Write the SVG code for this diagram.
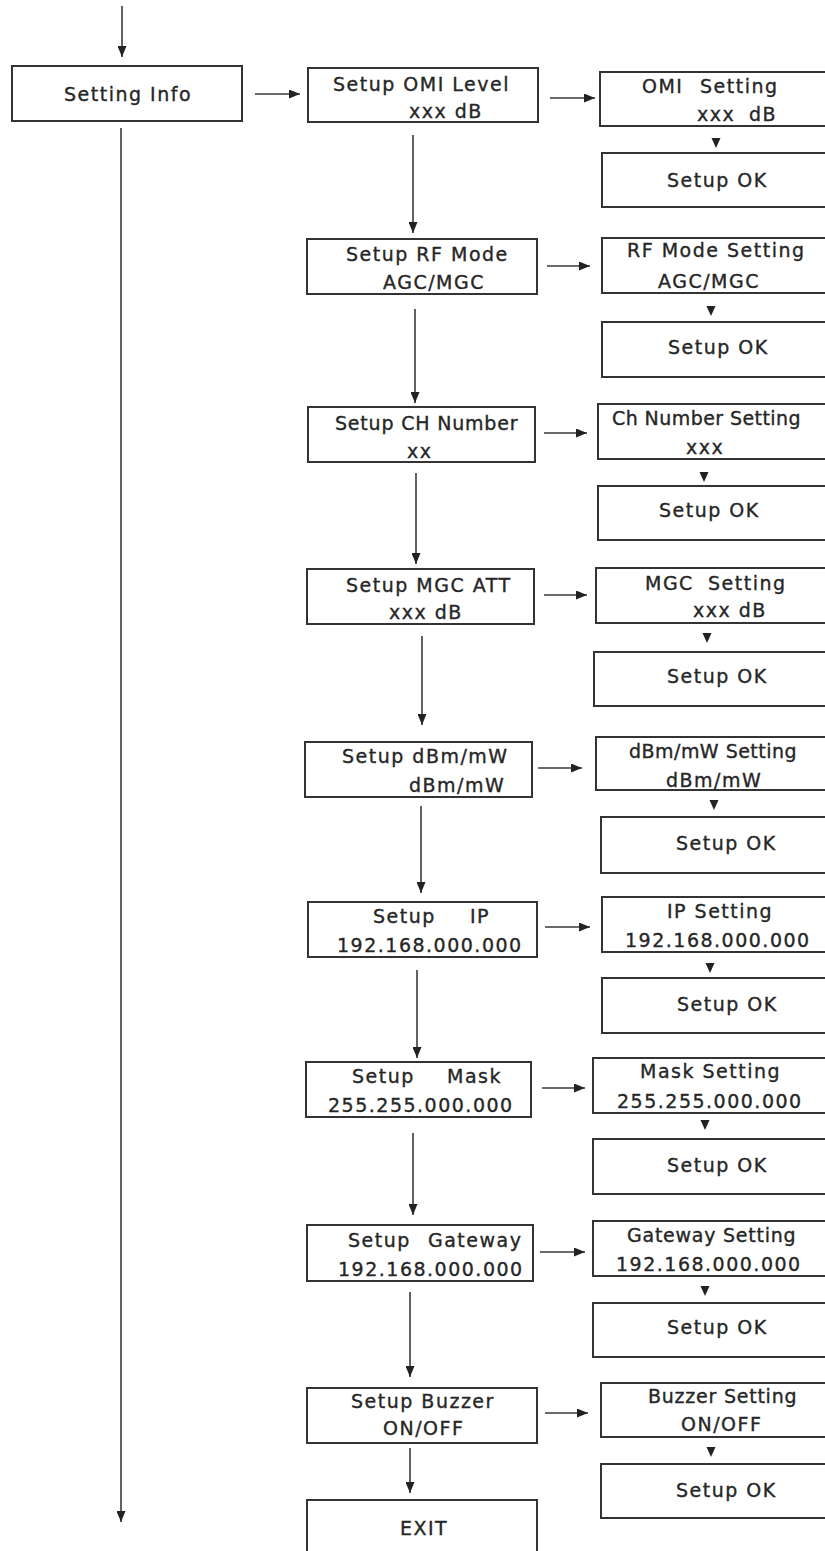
<svg xmlns="http://www.w3.org/2000/svg" width="825" height="1551" viewBox="0 0 825 1551">
<style>
  .box { fill: #ffffff; stroke: #333333; stroke-width: 2; }
  .t { font-family: "DejaVu Sans", Verdana, sans-serif; font-size: 19px; letter-spacing: 1.5px; fill: #262626; stroke: #262626; stroke-width: 0.35px; }
  .ln { stroke: #3a3a3a; stroke-width: 1.6; fill: none; }
  .tri { fill: #222222; }
</style>
<defs>
  <marker id="ah" markerUnits="userSpaceOnUse" markerWidth="11" markerHeight="9" refX="11" refY="4.5" orient="auto">
    <path d="M0,0 L11,4.5 L0,9 z" fill="#222222"/>
  </marker>
</defs>
<rect x="0" y="0" width="825" height="1551" fill="#ffffff"/>

<g id="connectors">
  <line class="ln" x1="122" y1="6" x2="122" y2="57" marker-end="url(#ah)"/>
  <line class="ln" x1="121" y1="128" x2="121" y2="1522" marker-end="url(#ah)"/>
  <line class="ln" x1="255" y1="94" x2="300" y2="94" marker-end="url(#ah)"/>

  <line class="ln" x1="550" y1="98" x2="595" y2="98" marker-end="url(#ah)"/>
  <line class="ln" x1="413" y1="135" x2="413" y2="233" marker-end="url(#ah)"/>
  <path class="tri" d="M711.5,138 L720.5,138 L716,148 z"/>

  <line class="ln" x1="547" y1="266" x2="590" y2="266" marker-end="url(#ah)"/>
  <line class="ln" x1="415" y1="309" x2="415" y2="403" marker-end="url(#ah)"/>
  <path class="tri" d="M706.5,306 L715.5,306 L711,316 z"/>

  <line class="ln" x1="544" y1="433" x2="587" y2="433" marker-end="url(#ah)"/>
  <line class="ln" x1="416" y1="473" x2="416" y2="564" marker-end="url(#ah)"/>
  <path class="tri" d="M699.5,472 L708.5,472 L704,482 z"/>

  <line class="ln" x1="544" y1="595" x2="587" y2="595" marker-end="url(#ah)"/>
  <line class="ln" x1="422" y1="636" x2="422" y2="725" marker-end="url(#ah)"/>
  <path class="tri" d="M702.5,633 L711.5,633 L707,643 z"/>

  <line class="ln" x1="538" y1="768" x2="582" y2="768" marker-end="url(#ah)"/>
  <line class="ln" x1="421" y1="806" x2="421" y2="893" marker-end="url(#ah)"/>
  <path class="tri" d="M709.5,800 L718.5,800 L714,810 z"/>

  <line class="ln" x1="545" y1="927" x2="590" y2="927" marker-end="url(#ah)"/>
  <line class="ln" x1="417" y1="970" x2="417" y2="1058" marker-end="url(#ah)"/>
  <path class="tri" d="M705.5,963 L714.5,963 L710,973 z"/>

  <line class="ln" x1="542" y1="1088" x2="585" y2="1088" marker-end="url(#ah)"/>
  <line class="ln" x1="413" y1="1133" x2="413" y2="1215" marker-end="url(#ah)"/>
  <path class="tri" d="M700.5,1120 L709.5,1120 L705,1130 z"/>

  <line class="ln" x1="540" y1="1252" x2="585" y2="1252" marker-end="url(#ah)"/>
  <line class="ln" x1="410" y1="1292" x2="410" y2="1377" marker-end="url(#ah)"/>
  <path class="tri" d="M700.5,1286 L709.5,1286 L705,1296 z"/>

  <line class="ln" x1="545" y1="1413" x2="588" y2="1413" marker-end="url(#ah)"/>
  <line class="ln" x1="410" y1="1448" x2="410" y2="1493" marker-end="url(#ah)"/>
  <path class="tri" d="M706.5,1447 L715.5,1447 L711,1457 z"/>
</g>

<g id="setting-info">
  <rect class="box" x="12" y="66" width="230" height="55"/>
  <text class="t" x="64" y="101">Setting Info</text>
</g>

<g id="setup-omi">
  <rect class="box" x="308" y="68" width="230" height="54"/>
  <text class="t" x="333" y="91">Setup OMI Level</text>
  <text class="t" x="409" y="118">xxx dB</text>
</g>
<g id="omi-setting">
  <rect class="box" x="600" y="72" width="240" height="54"/>
  <text class="t" y="93"><tspan x="642">OMI</tspan><tspan x="700">Setting</tspan></text>
  <text class="t" y="121"><tspan x="697">xxx</tspan><tspan x="749">dB</tspan></text>
</g>
<g id="omi-ok">
  <rect class="box" x="602" y="153" width="240" height="54"/>
  <text class="t" x="667" y="187">Setup OK</text>
</g>

<g id="setup-rf">
  <rect class="box" x="307" y="239" width="230" height="55"/>
  <text class="t" x="346" y="261">Setup RF Mode</text>
  <text class="t" x="383" y="289">AGC/MGC</text>
</g>
<g id="rf-setting">
  <rect class="box" x="602" y="238" width="240" height="55"/>
  <text class="t" x="627" y="257">RF Mode Setting</text>
  <text class="t" x="658" y="288">AGC/MGC</text>
</g>
<g id="rf-ok">
  <rect class="box" x="602" y="322" width="240" height="55"/>
  <text class="t" x="668" y="354">Setup OK</text>
</g>

<g id="setup-ch">
  <rect class="box" x="308" y="407" width="227" height="55"/>
  <text class="t" x="335" y="430" textLength="184" lengthAdjust="spacing">Setup CH Number</text>
  <text class="t" x="407" y="458">xx</text>
</g>
<g id="ch-setting">
  <rect class="box" x="598" y="404" width="240" height="55"/>
  <text class="t" x="612" y="425" textLength="190" lengthAdjust="spacing">Ch Number Setting</text>
  <text class="t" x="686" y="454">xxx</text>
</g>
<g id="ch-ok">
  <rect class="box" x="598" y="486" width="240" height="54"/>
  <text class="t" x="659" y="517">Setup OK</text>
</g>

<g id="setup-mgc">
  <rect class="box" x="307" y="569" width="227" height="55"/>
  <text class="t" x="346" y="592">Setup MGC ATT</text>
  <text class="t" x="389" y="619">xxx dB</text>
</g>
<g id="mgc-setting">
  <rect class="box" x="596" y="568" width="240" height="55"/>
  <text class="t" y="590"><tspan x="645">MGC</tspan><tspan x="708">Setting</tspan></text>
  <text class="t" x="693" y="617">xxx dB</text>
</g>
<g id="mgc-ok">
  <rect class="box" x="594" y="652" width="240" height="54"/>
  <text class="t" x="667" y="683">Setup OK</text>
</g>

<g id="setup-dbm">
  <rect class="box" x="305" y="742" width="227" height="55"/>
  <text class="t" x="342" y="763">Setup dBm/mW</text>
  <text class="t" x="409" y="792">dBm/mW</text>
</g>
<g id="dbm-setting">
  <rect class="box" x="596" y="737" width="240" height="53"/>
  <text class="t" x="629" y="758" textLength="169" lengthAdjust="spacing">dBm/mW Setting</text>
  <text class="t" x="666" y="787">dBm/mW</text>
</g>
<g id="dbm-ok">
  <rect class="box" x="601" y="817" width="240" height="56"/>
  <text class="t" x="676" y="850">Setup OK</text>
</g>

<g id="setup-ip">
  <rect class="box" x="308" y="902" width="229" height="55"/>
  <text class="t" y="923"><tspan x="373">Setup</tspan><tspan x="470">IP</tspan></text>
  <text class="t" x="337" y="952">192.168.000.000</text>
</g>
<g id="ip-setting">
  <rect class="box" x="602" y="897" width="240" height="55"/>
  <text class="t" x="667" y="918">IP Setting</text>
  <text class="t" x="625" y="947">192.168.000.000</text>
</g>
<g id="ip-ok">
  <rect class="box" x="602" y="978" width="240" height="55"/>
  <text class="t" x="677" y="1011">Setup OK</text>
</g>

<g id="setup-mask">
  <rect class="box" x="306" y="1062" width="225" height="55"/>
  <text class="t" y="1083"><tspan x="352">Setup</tspan><tspan x="447">Mask</tspan></text>
  <text class="t" x="328" y="1112">255.255.000.000</text>
</g>
<g id="mask-setting">
  <rect class="box" x="593" y="1058" width="240" height="55"/>
  <text class="t" x="640" y="1078">Mask Setting</text>
  <text class="t" x="617" y="1108">255.255.000.000</text>
</g>
<g id="mask-ok">
  <rect class="box" x="593" y="1139" width="240" height="55"/>
  <text class="t" x="667" y="1172">Setup OK</text>
</g>

<g id="setup-gateway">
  <rect class="box" x="307" y="1225" width="226" height="56"/>
  <text class="t" y="1247"><tspan x="348">Setup</tspan><tspan x="428">Gateway</tspan></text>
  <text class="t" x="338" y="1276">192.168.000.000</text>
</g>
<g id="gateway-setting">
  <rect class="box" x="593" y="1221" width="240" height="55"/>
  <text class="t" x="627" y="1242" textLength="170" lengthAdjust="spacing">Gateway Setting</text>
  <text class="t" x="616" y="1271">192.168.000.000</text>
</g>
<g id="gateway-ok">
  <rect class="box" x="593" y="1303" width="240" height="54"/>
  <text class="t" x="667" y="1334">Setup OK</text>
</g>

<g id="setup-buzzer">
  <rect class="box" x="307" y="1388" width="230" height="55"/>
  <text class="t" x="351" y="1408">Setup Buzzer</text>
  <text class="t" x="383" y="1435">ON/OFF</text>
</g>
<g id="buzzer-setting">
  <rect class="box" x="601" y="1383" width="240" height="54"/>
  <text class="t" x="648" y="1403" textLength="150" lengthAdjust="spacing">Buzzer Setting</text>
  <text class="t" x="681" y="1431">ON/OFF</text>
</g>
<g id="buzzer-ok">
  <rect class="box" x="601" y="1464" width="240" height="54"/>
  <text class="t" x="676" y="1497">Setup OK</text>
</g>

<g id="exit">
  <rect class="box" x="307" y="1500" width="230" height="70"/>
  <text class="t" x="400" y="1535">EXIT</text>
</g>
</svg>
